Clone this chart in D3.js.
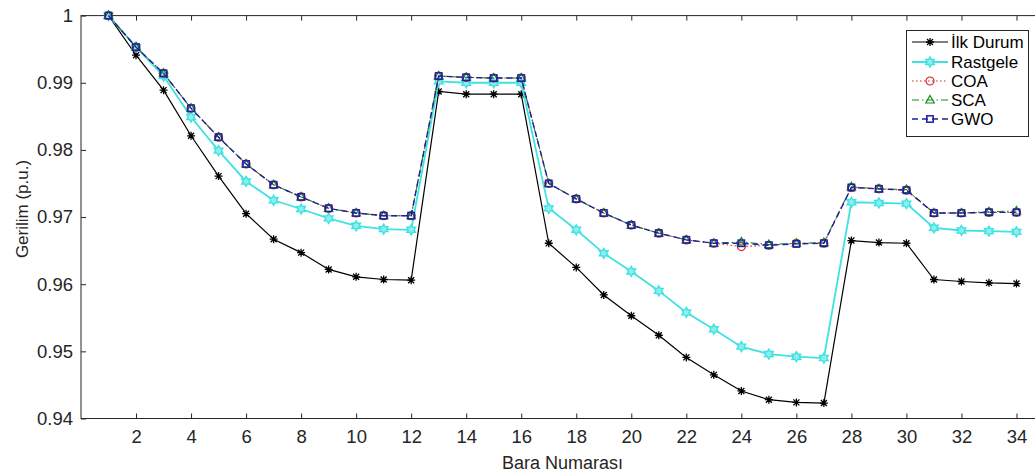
<!DOCTYPE html>
<html>
<head>
<meta charset="utf-8">
<script src="https://cdn.jsdelivr.net/npm/d3@7"></script>
<style>
  body { margin: 0; background: #fff; }
  svg { display: block; font-family: "Liberation Sans", Arial, sans-serif; }
</style>
</head>
<body>
<script>
// bus numbers and voltage profiles (p.u.)
const bara = [1,2,3,4,5,6,7,8,9,10,11,12,13,14,15,16,17,18,19,20,21,22,23,24,25,26,27,28,29,30,31,32,33,34];

const ilkDurum = [1.0, 0.9941, 0.9889, 0.9821, 0.9761, 0.9705, 0.9667, 0.9647, 0.9622, 0.9611, 0.9607, 0.9606,
  0.9887, 0.9883, 0.9883, 0.9883, 0.9661, 0.9625, 0.9584, 0.9553, 0.9524, 0.9491, 0.9465, 0.9441, 0.9428, 0.9424, 0.9423,
  0.9665, 0.9662, 0.9661, 0.9607, 0.9604, 0.9602, 0.9601];

const rastgele = [1.0, 0.9953, 0.9910, 0.9849, 0.9799, 0.9753, 0.9725, 0.9712, 0.9698, 0.9687, 0.9682, 0.9681,
  0.9902, 0.9900, 0.9900, 0.9900, 0.9713, 0.9681, 0.9646, 0.9619, 0.9590, 0.9558, 0.9533, 0.9507, 0.9496, 0.9492, 0.9490,
  0.9722, 0.9721, 0.9720, 0.9684, 0.9680, 0.9679, 0.9678];

const coa = [1.0, 0.9953, 0.9914, 0.9862, 0.9819, 0.9779, 0.9748, 0.9730, 0.9713, 0.9706, 0.9702, 0.9702,
  0.9910, 0.9908, 0.9907, 0.9907, 0.9750, 0.9727, 0.9706, 0.9688, 0.9676, 0.9666, 0.9661, 0.9656, 0.9658, 0.9661, 0.9661,
  0.9744, 0.9742, 0.9740, 0.9706, 0.9706, 0.9707, 0.9707];

const sca = [1.0, 0.9953, 0.9914, 0.9862, 0.9819, 0.9779, 0.9748, 0.9730, 0.9713, 0.9706, 0.9702, 0.9702,
  0.9910, 0.9908, 0.9907, 0.9907, 0.9750, 0.9727, 0.9706, 0.9688, 0.9676, 0.9666, 0.9661, 0.9663, 0.9659, 0.9661, 0.9662,
  0.9745, 0.9742, 0.9741, 0.9706, 0.9706, 0.9708, 0.9709];

const gwo = [1.0, 0.9953, 0.9914, 0.9862, 0.9819, 0.9779, 0.9748, 0.9730, 0.9713, 0.9706, 0.9702, 0.9702,
  0.9910, 0.9908, 0.9907, 0.9907, 0.9750, 0.9727, 0.9706, 0.9688, 0.9676, 0.9666, 0.9661, 0.9661, 0.9658, 0.9660, 0.9661,
  0.9744, 0.9742, 0.9740, 0.9706, 0.9706, 0.9707, 0.9707];

const seriesNames = ["İlk Durum", "Rastgele", "COA", "SCA", "GWO"];
const xTicks = [2,4,6,8,10,12,14,16,18,20,22,24,26,28,30,32,34];
const yTicks = [0.94,0.95,0.96,0.97,0.98,0.99,1];

const W = 1035, H = 474;
const svg = d3.select("body").append("svg")
    .attr("width", W)
    .attr("height", H);

const x = d3.scaleLinear().domain([0, 35]).range([81, 1044]);
const y = d3.scaleLinear().domain([0.94, 1]).range([418.5, 15.6]);
const axisCol = "#262626";

// box
svg.append("rect")
    .attr("x", x(0)).attr("y", y(1))
    .attr("width", x(35) - x(0)).attr("height", y(0.94) - y(1))
    .attr("fill", "none").attr("stroke", axisCol).attr("stroke-width", 1);

function styleAxis(g, size) {
  g.select(".domain").remove();
  g.selectAll(".tick line").attr("stroke", axisCol);
  g.selectAll(".tick text").attr("fill", axisCol).style("font-size", size + "px");
}

svg.append("g")
    .attr("transform", `translate(0, ${y(0.94)})`)
    .call(d3.axisBottom(x).tickValues(xTicks).tickSize(-5).tickPadding(11).tickFormat(d3.format("d")))
    .call(g => styleAxis(g, 18.5));

svg.append("g")
    .attr("transform", `translate(0, ${y(1)})`)
    .call(d3.axisTop(x).tickValues(xTicks).tickSize(-5).tickFormat(""))
    .call(g => styleAxis(g, 18));

svg.append("g")
    .attr("transform", `translate(${x(0)}, 0)`)
    .call(d3.axisLeft(y).tickValues(yTicks).tickSize(-5).tickPadding(8)
      .tickFormat(d => d === 1 ? "1" : d3.format(".2f")(d)))
    .call(g => styleAxis(g, 18.5));

svg.append("g")
    .attr("transform", `translate(${x(35)}, 0)`)
    .call(d3.axisRight(y).tickValues(yTicks).tickSize(-5).tickFormat(""))
    .call(g => styleAxis(g, 18));

svg.append("text")
    .attr("x", (x(0) + x(35)) / 2).attr("y", 469)
    .attr("text-anchor", "middle").attr("fill", axisCol)
    .style("font-size", "18px")
    .text("Bara Numarası");

svg.append("text")
    .attr("transform", "translate(28, 209) rotate(-90)")
    .attr("text-anchor", "middle").attr("fill", axisCol)
    .style("font-size", "17px")
    .text("Gerilim (p.u.)");

// marker shapes
const hexPath = (() => {
  const r = 5, pts = [];
  for (let i = 0; i < 12; i++) {
    const a = Math.PI / 6 * i - Math.PI / 2;
    const rr = i % 2 === 0 ? r : r * 0.58;
    pts.push([rr * Math.cos(a), rr * Math.sin(a)]);
  }
  return "M" + pts.map(p => p.join(",")).join("L") + "Z";
})();

function drawMarker(g, kind, color) {
  if (kind === "star") {
    g.append("path").attr("d", "M-4,0H4M0,-4V4M-3,-3L3,3M-3,3L3,-3")
      .attr("stroke", color).attr("stroke-width", 1.3).attr("fill", "none");
  } else if (kind === "hex") {
    g.append("path").attr("d", hexPath)
      .attr("stroke", color).attr("stroke-width", 1.4).attr("fill", "#8eeeee");
  } else if (kind === "circle") {
    g.append("circle").attr("r", 4)
      .attr("stroke", color).attr("stroke-width", 1.2).attr("fill", "none");
  } else if (kind === "tri") {
    g.append("path").attr("d", "M0,-4.5L4.2,3L-4.2,3Z")
      .attr("stroke", color).attr("stroke-width", 1.2).attr("fill", "none");
  } else if (kind === "square") {
    g.append("rect").attr("x", -3.2).attr("y", -3.2).attr("width", 6.4).attr("height", 6.4)
      .attr("stroke", color).attr("stroke-width", 1.5).attr("fill", "none");
  }
}

const series = [
  {name: seriesNames[0], values: ilkDurum, color: "#000000", dash: null, width: 1.2, marker: "star"},
  {name: seriesNames[1], values: rastgele, color: "#3fe2e2", dash: null, width: 1.8, marker: "hex"},
  {name: seriesNames[2], values: coa, color: "#e0262a", dash: "1.5,2.5", width: 1.1, marker: "circle"},
  {name: seriesNames[3], values: sca, color: "#168a16", dash: "7,3,1.5,3", width: 1.1, marker: "tri"},
  {name: seriesNames[4], values: gwo, color: "#1f1fa6", dash: "6,4", width: 1.4, marker: "square"}
];

const line = d3.line().x((d, i) => x(bara[i])).y(d => y(d));

series.forEach(s => {
  svg.append("path")
      .datum(s.values)
      .attr("d", line)
      .attr("fill", "none")
      .attr("stroke", s.color)
      .attr("stroke-width", s.width)
      .attr("stroke-dasharray", s.dash);
  svg.append("g").selectAll("g")
      .data(s.values)
      .join("g")
      .attr("transform", (d, i) => `translate(${x(bara[i])}, ${y(d)})`)
      .each(function () { drawMarker(d3.select(this), s.marker, s.color); });
});

// legend
const lg = svg.append("g");
lg.append("rect")
    .attr("x", 906.5).attr("y", 30.5).attr("width", 122).attr("height", 106)
    .attr("fill", "#fff").attr("stroke", axisCol).attr("stroke-width", 1);
const rowY = [42, 62, 81, 100, 119];
series.forEach((s, i) => {
  lg.append("line")
      .attr("x1", 912).attr("x2", 948).attr("y1", rowY[i]).attr("y2", rowY[i])
      .attr("stroke", s.color).attr("stroke-width", s.width)
      .attr("stroke-dasharray", s.dash);
  drawMarker(lg.append("g").attr("transform", `translate(930, ${rowY[i]})`), s.marker, s.color);
  lg.append("text")
      .attr("x", 951).attr("y", rowY[i]).attr("dy", "0.36em")
      .attr("fill", "#000")
      .style("font-size", "17px")
      .text(s.name);
});
</script>
</body>
</html>
